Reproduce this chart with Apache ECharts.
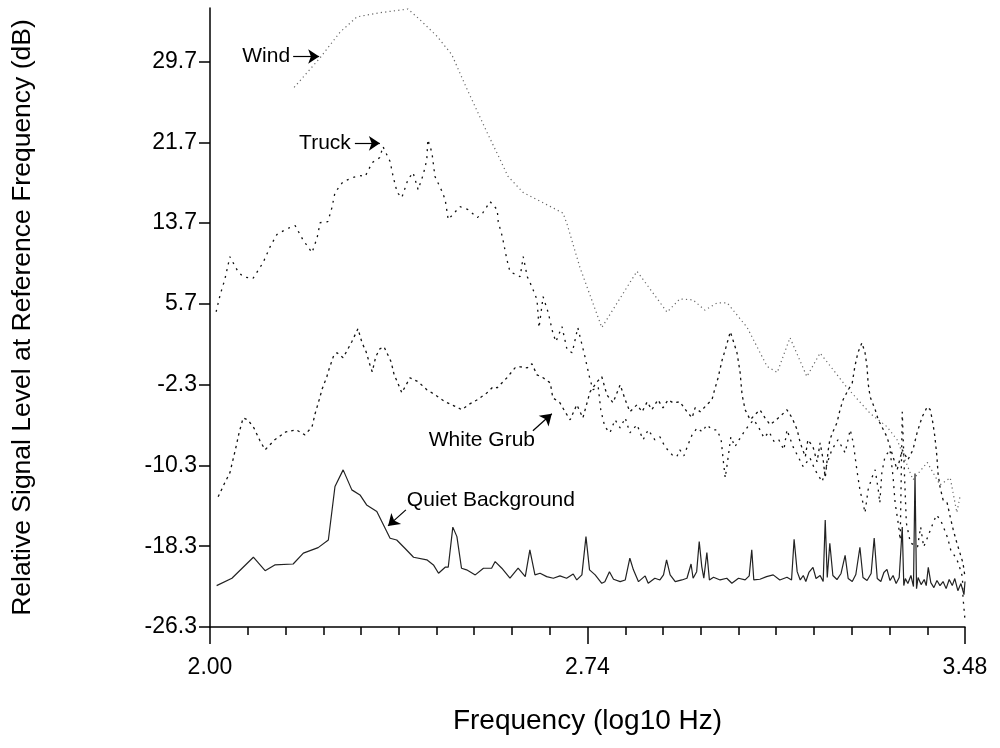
<!DOCTYPE html>
<html><head><meta charset="utf-8">
<script src="https://cdn.jsdelivr.net/npm/echarts@6/dist/echarts.min.js"></script>
<style>html,body{margin:0;padding:0;background:#fff}#c{width:1000px;height:748px}</style>
</head><body><div id="c"></div>
<script>
const xTickValues = [2.00, 2.74, 3.48];
const xMinorTickValues = [2.074,2.148,2.222,2.296,2.370,2.444,2.518,2.592,2.666,2.814,2.888,2.962,3.036,3.110,3.184,3.258,3.332,3.406];
const yTickValues = [-26.3,-18.3,-10.3,-2.3,5.7,13.7,21.7,29.7];
const xTitle = 'Frequency (log10 Hz)';
const yTitle = 'Relative Signal Level at Reference Frequency (dB)';

const windData = [[2.165,27.14],[2.216,30.08],[2.255,32.61],[2.288,34.12],[2.333,34.53],[2.388,34.9],[2.412,33.82],[2.445,32.2],[2.474,30.38],[2.504,26.94],[2.543,22.69],[2.569,19.96],[2.584,18.34],[2.614,16.72],[2.661,15.5],[2.692,14.69],[2.700,13.58],[2.725,9.33],[2.768,3.36],[2.837,8.93],[2.896,4.88],[2.921,6.19],[2.947,6.09],[2.970,5.08],[2.994,5.79],[3.014,5.79],[3.053,3.36],[3.092,-0.49],[3.112,-1.09],[3.137,2.35],[3.170,-1.5],[3.196,0.83],[3.221,-0.79],[3.249,-2.61],[3.294,-5.14],[3.327,-6.46],[3.347,-7.77],[3.378,-11.72],[3.406,-10.0],[3.431,-12.23],[3.451,-11.52],[3.464,-14.96],[3.470,-13.44]];

const truckData = [[2.012,4.92],[2.020,6.61],[2.029,8.1],[2.039,10.37],[2.055,8.89],[2.065,8.39],[2.084,8.2],[2.104,9.78],[2.118,11.37],[2.131,12.56],[2.151,13.15],[2.167,13.45],[2.182,12.06],[2.200,10.77],[2.210,12.26],[2.216,13.74],[2.231,13.84],[2.239,15.23],[2.245,16.72],[2.261,17.81],[2.280,18.21],[2.294,18.4],[2.304,18.31],[2.318,19.69],[2.333,20.19],[2.339,21.28],[2.353,19.8],[2.359,18.31],[2.367,16.72],[2.376,16.22],[2.388,18.0],[2.398,18.7],[2.408,17.01],[2.418,18.5],[2.425,19.99],[2.427,21.97],[2.435,20.69],[2.441,18.31],[2.455,16.82],[2.461,16.02],[2.467,14.05],[2.490,15.33],[2.506,15.03],[2.524,14.24],[2.535,14.73],[2.549,15.83],[2.563,15.03],[2.565,13.84],[2.573,12.36],[2.582,10.08],[2.588,8.89],[2.608,8.39],[2.614,10.37],[2.622,8.39],[2.631,7.4],[2.641,6.11],[2.645,3.34],[2.653,6.41],[2.663,4.83],[2.672,2.84],[2.678,1.95],[2.690,3.44],[2.700,1.15],[2.710,0.86],[2.721,3.34],[2.735,0.47],[2.745,-1.81],[2.751,-2.8],[2.761,-2.51],[2.766,-4.79],[2.774,-6.48],[2.784,-7.07],[2.794,-5.78],[2.804,-6.58],[2.814,-5.59],[2.823,-7.07],[2.837,-6.27],[2.849,-7.76],[2.859,-6.77],[2.872,-7.76],[2.882,-7.47],[2.892,-8.46],[2.906,-9.25],[2.915,-9.45],[2.921,-8.75],[2.929,-9.35],[2.937,-8.26],[2.945,-7.27],[2.955,-6.58],[2.965,-6.97],[2.974,-6.27],[2.984,-6.77],[2.994,-6.77],[3.002,-7.76],[3.006,-9.75],[3.010,-11.53],[3.015,-9.75],[3.021,-7.47],[3.029,-8.46],[3.037,-7.76],[3.047,-6.97],[3.057,-6.27],[3.066,-5.78],[3.076,-6.58],[3.086,-7.57],[3.096,-6.97],[3.106,-7.96],[3.115,-7.76],[3.125,-8.75],[3.131,-6.77],[3.143,-8.46],[3.153,-9.45],[3.163,-10.44],[3.176,-9.54],[3.186,-10.74],[3.200,-11.92],[3.210,-10.04],[3.219,-8.75],[3.231,-7.76],[3.245,-9.05],[3.255,-6.77],[3.261,-8.07],[3.268,-10.74],[3.274,-12.72],[3.280,-14.01],[3.284,-15.0],[3.290,-12.72],[3.298,-11.44],[3.304,-10.74],[3.310,-12.72],[3.313,-14.01],[3.317,-11.03],[3.323,-9.45],[3.333,-8.75],[3.339,-11.44],[3.343,-14.01],[3.349,-15.99],[3.353,-17.68],[3.357,-4.99],[3.361,-10.74],[3.365,-15.99],[3.373,-17.97],[3.387,-18.37],[3.393,-16.38],[3.399,-18.37],[3.407,-17.38],[3.416,-16.19],[3.424,-15.2],[3.432,-15.7],[3.440,-16.69],[3.446,-17.48],[3.452,-18.66],[3.461,-19.36],[3.467,-19.96],[3.475,-21.34],[3.476,-23.33],[3.480,-25.6]];

const whiteGrubData = [[2.016,-13.41],[2.029,-12.02],[2.039,-11.03],[2.045,-9.75],[2.051,-8.46],[2.057,-7.07],[2.065,-5.59],[2.074,-5.78],[2.086,-6.58],[2.098,-7.86],[2.108,-8.75],[2.127,-7.76],[2.149,-6.97],[2.169,-6.77],[2.186,-7.27],[2.200,-6.48],[2.206,-5.18],[2.214,-3.8],[2.220,-2.71],[2.229,-1.52],[2.233,-0.83],[2.243,0.66],[2.249,0.86],[2.261,0.36],[2.278,1.95],[2.290,3.24],[2.298,1.85],[2.306,0.96],[2.314,-0.43],[2.318,-1.02],[2.325,0.47],[2.333,1.25],[2.341,1.46],[2.355,-0.03],[2.361,-1.33],[2.367,-2.01],[2.376,-3.11],[2.392,-1.62],[2.408,-2.01],[2.425,-2.8],[2.441,-3.3],[2.461,-4.0],[2.474,-4.29],[2.494,-4.79],[2.506,-4.29],[2.524,-3.8],[2.543,-3.11],[2.555,-2.51],[2.563,-2.61],[2.582,-1.62],[2.598,-0.63],[2.608,-0.53],[2.622,-0.63],[2.631,-0.23],[2.641,-1.33],[2.653,-1.62],[2.667,-2.12],[2.672,-3.6],[2.686,-4.1],[2.696,-4.99],[2.706,-5.78],[2.719,-4.29],[2.731,-5.59],[2.745,-3.01],[2.759,-2.01],[2.768,-1.52],[2.778,-3.3],[2.790,-4.1],[2.804,-2.31],[2.814,-3.8],[2.823,-4.99],[2.837,-4.29],[2.847,-4.99],[2.857,-4.0],[2.866,-4.79],[2.878,-3.8],[2.888,-4.59],[2.898,-3.8],[2.908,-4.1],[2.921,-4.0],[2.935,-4.99],[2.945,-5.59],[2.951,-4.59],[2.961,-4.99],[2.974,-4.29],[2.984,-3.8],[2.988,-3.01],[2.996,-1.62],[3.004,0.16],[3.010,1.15],[3.020,2.94],[3.025,2.15],[3.033,0.86],[3.039,-1.02],[3.043,-3.3],[3.049,-4.79],[3.059,-5.78],[3.068,-5.28],[3.078,-4.79],[3.088,-5.59],[3.098,-6.27],[3.110,-5.78],[3.121,-5.28],[3.131,-4.79],[3.141,-5.59],[3.151,-6.77],[3.157,-8.07],[3.167,-9.45],[3.172,-7.76],[3.182,-8.46],[3.190,-9.95],[3.196,-8.07],[3.202,-9.75],[3.206,-11.53],[3.212,-8.75],[3.215,-7.76],[3.221,-6.97],[3.229,-6.08],[3.235,-4.79],[3.241,-3.8],[3.249,-3.01],[3.259,-2.12],[3.264,-0.53],[3.270,0.86],[3.278,1.85],[3.284,0.86],[3.288,-0.53],[3.290,-2.12],[3.294,-3.5],[3.304,-4.79],[3.310,-5.78],[3.320,-6.77],[3.327,-7.47],[3.333,-8.46],[3.339,-9.45],[3.347,-10.74],[3.357,-8.75],[3.368,-9.75],[3.378,-8.75],[3.386,-7.07],[3.396,-5.49],[3.406,-4.49],[3.412,-4.79],[3.417,-6.08],[3.421,-7.47],[3.425,-9.45],[3.427,-11.03],[3.431,-12.42],[3.437,-13.71],[3.445,-14.01],[3.451,-15.39],[3.457,-16.69],[3.464,-17.97],[3.470,-18.96],[3.476,-19.96],[3.480,-21.34]];

const quietData = [[2.013,-22.2],[2.043,-21.47],[2.085,-19.39],[2.108,-20.72],[2.127,-20.15],[2.163,-20.06],[2.183,-18.99],[2.212,-18.44],[2.232,-17.68],[2.245,-12.39],[2.261,-10.74],[2.278,-12.72],[2.294,-13.22],[2.307,-14.21],[2.327,-14.87],[2.353,-17.51],[2.366,-17.68],[2.382,-18.5],[2.399,-19.39],[2.425,-19.65],[2.438,-20.15],[2.448,-20.98],[2.461,-20.38],[2.467,-20.38],[2.476,-16.41],[2.484,-17.35],[2.493,-20.48],[2.503,-20.64],[2.520,-21.14],[2.536,-20.48],[2.552,-20.48],[2.559,-19.82],[2.572,-20.48],[2.588,-21.47],[2.604,-20.48],[2.618,-21.31],[2.627,-18.66],[2.637,-21.14],[2.647,-20.98],[2.660,-21.31],[2.673,-21.47],[2.686,-21.24],[2.699,-21.47],[2.712,-21.05],[2.719,-21.64],[2.729,-21.14],[2.737,-17.35],[2.744,-20.64],[2.755,-21.14],[2.768,-21.97],[2.774,-21.81],[2.783,-20.82],[2.791,-21.57],[2.804,-21.81],[2.814,-21.64],[2.823,-19.49],[2.830,-20.64],[2.840,-21.81],[2.853,-21.24],[2.859,-21.97],[2.872,-21.47],[2.882,-21.64],[2.889,-21.14],[2.895,-19.65],[2.902,-21.14],[2.912,-21.81],[2.925,-21.64],[2.935,-21.47],[2.943,-20.06],[2.947,-21.47],[2.954,-20.82],[2.959,-17.84],[2.964,-20.32],[2.968,-21.47],[2.974,-18.93],[2.979,-21.64],[2.987,-21.37],[3.000,-21.64],[3.013,-21.47],[3.023,-21.97],[3.036,-21.47],[3.049,-21.64],[3.057,-21.24],[3.062,-18.66],[3.066,-21.64],[3.078,-21.57],[3.091,-21.31],[3.104,-21.14],[3.117,-21.64],[3.131,-21.37],[3.140,-21.64],[3.145,-17.61],[3.151,-20.82],[3.157,-21.64],[3.163,-21.2],[3.168,-21.8],[3.174,-20.9],[3.182,-20.4],[3.188,-21.5],[3.196,-21.2],[3.202,-21.8],[3.206,-15.7],[3.210,-21.4],[3.215,-18.0],[3.221,-21.2],[3.229,-21.6],[3.237,-21.0],[3.245,-19.2],[3.251,-21.5],[3.259,-21.8],[3.266,-21.1],[3.274,-18.4],[3.280,-21.4],[3.288,-21.7],[3.296,-21.0],[3.302,-17.5],[3.308,-21.5],[3.315,-21.8],[3.321,-20.9],[3.327,-20.6],[3.333,-21.7],[3.339,-21.2],[3.345,-22.0],[3.351,-21.4],[3.357,-16.4],[3.360,-22.2],[3.363,-21.5],[3.368,-22.0],[3.374,-21.2],[3.379,-22.3],[3.382,-11.1],[3.385,-22.5],[3.388,-21.4],[3.394,-22.1],[3.400,-21.6],[3.404,-22.2],[3.408,-20.4],[3.413,-21.9],[3.419,-22.4],[3.425,-21.7],[3.431,-22.2],[3.437,-21.8],[3.443,-22.5],[3.449,-21.6],[3.455,-22.2],[3.460,-21.5],[3.466,-22.7],[3.472,-22.0],[3.478,-23.1],[3.480,-21.8]];

// annotation labels and arrows (data coordinates)
const labelWind = {text:'Wind', at:[2.161,30.2], pos:'left'};
const labelTruck = {text:'Truck', at:[2.280,21.63], pos:'left'};
const labelGrub = {text:'White Grub', at:[2.533,-7.76], pos:'inside'};
const labelQuiet = {text:'Quiet Background', at:[2.382,-13.71], pos:'right'};
const arrowWind = [[2.163,30.2],[2.214,30.2]];
const arrowTruck = [[2.284,21.6],[2.333,21.6]];
const arrowGrub = [[2.633,-6.87],[2.670,-5.18]];
const arrowQuiet = [[2.384,-14.7],[2.349,-16.29]];

const FONT = "'Liberation Sans', Arial, sans-serif";

function marks(label, arrow) {
  return {
    markPoint: {
      silent: true, symbol: 'circle', symbolSize: 0, animation: false,
      data: [{coord: label.at, label: {show: true, formatter: label.text, position: label.pos, distance: 2,
        color: '#000', fontSize: 21, fontFamily: FONT}}]
    },
    markLine: {
      silent: true, animation: false, symbol: ['none', 'arrow'], symbolSize: 11,
      label: {show: false},
      lineStyle: {color: '#000', width: 1.2, type: 'solid'},
      emphasis: {disabled: true},
      data: [[{coord: arrow[0]}, {coord: arrow[1]}]]
    }
  };
}

const chart = echarts.init(document.getElementById('c'), null, {renderer: 'canvas'});
const axisLineStyle = {color: '#000', width: 1.5};
chart.setOption({
  animation: false,
  backgroundColor: '#fff',
  grid: {left: 210, right: 35, top: 8, bottom: 121, containLabel: false},
  xAxis: [{
    type: 'value', min: 2, max: 3.48, position: 'bottom',
    axisLine: {show: true, onZero: false, lineStyle: axisLineStyle},
    axisTick: {show: true, inside: false, length: 17, customValues: xTickValues, lineStyle: axisLineStyle},
    axisLabel: {show: true, customValues: xTickValues, formatter: v => Number(v).toFixed(2),
      margin: 29, fontSize: 23, color: '#000', fontFamily: FONT},
    splitLine: {show: false},
    name: xTitle, nameLocation: 'middle', nameGap: 80,
    nameTextStyle: {fontSize: 28, color: '#000', fontFamily: FONT}
  }, {
    type: 'value', min: 2, max: 3.48, position: 'bottom', gridIndex: 0, offset: 0,
    axisLine: {show: false, onZero: false},
    axisTick: {show: true, inside: false, length: 8, customValues: xMinorTickValues, lineStyle: axisLineStyle},
    axisLabel: {show: false},
    splitLine: {show: false}
  }],
  yAxis: {
    type: 'value', min: -26.3, max: 35.0,
    axisLine: {show: true, onZero: false, lineStyle: axisLineStyle},
    axisTick: {show: true, inside: false, length: 11, customValues: yTickValues, lineStyle: axisLineStyle},
    axisLabel: {show: true, customValues: yTickValues, formatter: v => Number(v).toFixed(1),
      margin: 13, fontSize: 23, color: '#000', fontFamily: FONT},
    splitLine: {show: false},
    name: yTitle, nameLocation: 'middle', nameGap: 174, nameRotate: 90,
    nameTextStyle: {fontSize: 26.5, color: '#000', fontFamily: FONT}
  },
  series: [
    Object.assign({
      name: 'Wind', type: 'line', data: windData, showSymbol: false, symbol: 'none',
      lineStyle: {color: '#666', width: 1.2, type: [1.2, 3.2]}, z: 2
    }, marks(labelWind, arrowWind)),
    Object.assign({
      name: 'Truck', type: 'line', data: truckData, showSymbol: false, symbol: 'none',
      lineStyle: {color: '#111', width: 1.3, type: [2, 5]}, z: 3
    }, marks(labelTruck, arrowTruck)),
    Object.assign({
      name: 'White Grub', type: 'line', data: whiteGrubData, showSymbol: false, symbol: 'none',
      lineStyle: {color: '#111', width: 1.3, type: [2.5, 4]}, z: 3
    }, marks(labelGrub, arrowGrub)),
    Object.assign({
      name: 'Quiet Background', type: 'line', data: quietData, showSymbol: false, symbol: 'none',
      lineStyle: {color: '#222', width: 1.2, type: 'solid'}, z: 4
    }, marks(labelQuiet, arrowQuiet))
  ]
});
</script>
</body></html>
